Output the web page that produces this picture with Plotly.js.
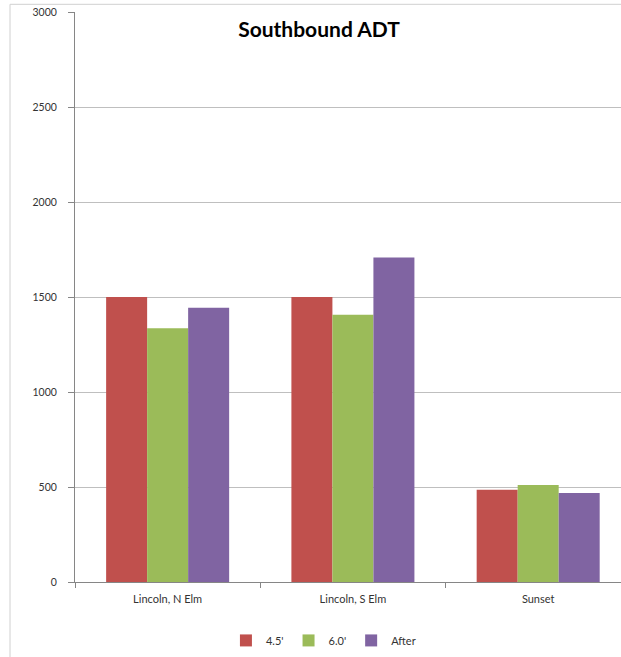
<!DOCTYPE html>
<html>
<head>
<meta charset="utf-8">
<script src="https://cdn.plot.ly/plotly-3.0.1.min.js"></script>
<style>html,body{margin:0;padding:0;background:#fff;}#chart{width:621px;height:657px;}</style>
</head>
<body>
<div id="chart"></div>
<script>
const categories = ["Lincoln, N Elm", "Lincoln, S Elm", "Sunset"];
const seriesNames = ["4.5'", "6.0'", "After"];
const values45 = [1500, 1500, 486];
const values60 = [1336, 1406, 511];
const valuesAfter = [1444, 1708, 469];
const yTicks = [0, 500, 1000, 1500, 2000, 2500, 3000];

const colors = ["#C0504D", "#9BBB59", "#8064A2"];
const seriesValues = [values45, values60, valuesAfter];

const traces = seriesValues.map((vals, i) => ({
  type: "bar",
  name: seriesNames[i],
  x: categories,
  y: vals,
  marker: {color: colors[i], line: {width: 0}},
  hoverinfo: "x+y+name"
}));

const fontFam = "Lato, 'Liberation Sans', sans-serif";

const layout = {
  width: 621,
  height: 657,
  margin: {l: 75, r: 0, t: 12, b: 75, pad: 0},
  paper_bgcolor: "#ffffff",
  plot_bgcolor: "#ffffff",
  font: {family: fontFam, size: 10, color: "#404040"},
  barmode: "group",
  bargap: 0.336,
  bargroupgap: 0,
  title: {
    text: "<b>Southbound ADT</b>",
    font: {family: fontFam, size: 21, color: "#000000"},
    x: 319 / 621,
    xanchor: "center",
    y: 1 - 30 / 657,
    yanchor: "middle"
  },
  xaxis: {
    type: "category",
    range: [-0.5, 2.447],
    showline: true,
    linecolor: "#868686",
    linewidth: 1,
    ticks: "outside",
    tickson: "boundaries",
    ticklen: 5,
    tickcolor: "#868686",
    showgrid: false,
    zeroline: false,
    ticklabelstandoff: 7,
    tickfont: {family: fontFam, size: 11, color: "#333333"}
  },
  yaxis: {
    range: [0, 3000],
    tickvals: yTicks,
    ticktext: yTicks.map(String),
    showline: true,
    linecolor: "#868686",
    linewidth: 1,
    ticks: "outside",
    ticklen: 6,
    tickcolor: "#868686",
    showgrid: true,
    gridcolor: "#BFBFBF",
    gridwidth: 1,
    zeroline: false,
    ticklabelstandoff: 9,
    tickfont: {family: fontFam, size: 10.5, color: "#333333"}
  },
  showlegend: true,
  legend: {
    orientation: "h",
    x: 0.455,
    xanchor: "center",
    y: -0.1025,
    yanchor: "middle",
    font: {family: fontFam, size: 11, color: "#333333"},
    itemwidth: 30,
    tracegroupgap: 0
  },
  shapes: [
    {type: "line", xref: "paper", yref: "paper", x0: -0.119, x1: -0.119, y0: 1.0135, y1: -0.14, line: {color: "#D0D0D0", width: 1}},
    {type: "line", xref: "paper", yref: "paper", x0: -0.119, x1: 1.0, y0: 1.0135, y1: 1.0135, line: {color: "#D0D0D0", width: 1}}
  ]
};

Plotly.newPlot("chart", traces, layout, {displayModeBar: false, staticPlot: true});
</script>
</body>
</html>
